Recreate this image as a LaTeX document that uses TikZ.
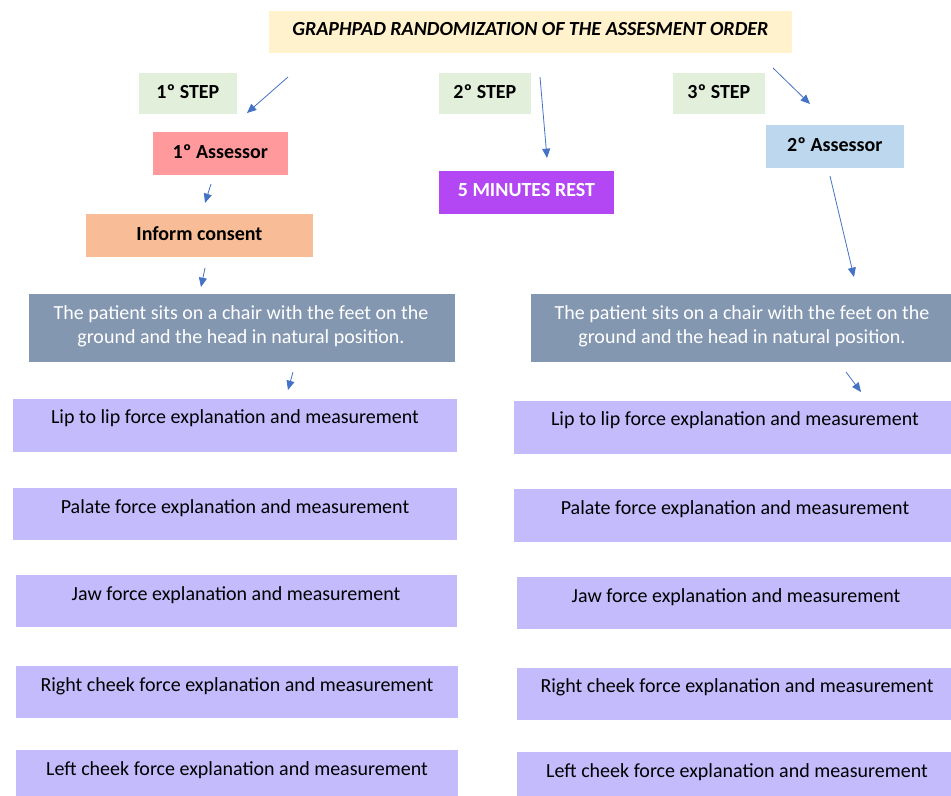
\documentclass[tikz,border=0pt]{standalone}
\usepackage{fontspec}
\setmainfont{Carlito}
\usetikzlibrary{arrows.meta}
\definecolor{titlec}{HTML}{FFF2CC}
\definecolor{stepc}{HTML}{E2EFDA}
\definecolor{assAc}{HTML}{FF999C}
\definecolor{assBc}{HTML}{BDD7EE}
\definecolor{informc}{HTML}{F8BD96}
\definecolor{restc}{HTML}{B247F3}
\definecolor{patc}{HTML}{8497B0}
\definecolor{measc}{HTML}{C4BBFD}
\definecolor{arrc}{HTML}{4472C4}
\tikzset{
  box/.style={draw=white, line width=0.6pt, inner sep=0pt, anchor=north west},
  boldtxt/.style={font=\fontsize{15}{18}\selectfont\bfseries, yshift=1.5pt},
  meastxt/.style={font=\fontsize{15}{18}\selectfont, yshift=-1.5pt},
  arr/.style={draw=arrc, line width=0.6pt, -{Triangle[length=7pt,width=6pt]}},
}
\begin{document}
\begin{tikzpicture}[x=0.75pt,y=-0.75pt]
\useasboundingbox (0,0) rectangle (951,796);
\newcommand{\bx}[6]{\node[box, fill=#6, minimum width=#4*0.75pt, minimum height=#5*0.75pt] (#1) at (#2,#3) {};}
% title
\bx{title}{268}{10}{524}{43}{titlec}
\node[font=\fontsize{15}{18}\selectfont\bfseries\itshape, yshift=2pt] (titlet) at (title.center) {GRAPHPAD RANDOMIZATION OF THE ASSESMENT ORDER};
% steps
\bx{s1}{138}{72}{99}{42}{stepc}
\node[boldtxt] (s1t) at (s1.center) {1º STEP};
\bx{s2}{438}{72}{93}{42}{stepc}
\node[boldtxt] (s2t) at (s2.center) {2º STEP};
\bx{s3}{672}{72}{93}{42}{stepc}
\node[boldtxt] (s3t) at (s3.center) {3º STEP};
% assessors
\bx{a1}{152}{131}{136}{44}{assAc}
\node[boldtxt] (a1t) at (a1.center) {1º Assessor};
\bx{a2}{765}{124}{139}{44}{assBc}
\node[boldtxt] (a2t) at (a2.center) {2º Assessor};
% rest
\bx{rest}{438}{170}{176}{44}{restc}
\node[boldtxt, text=white] (restt) at (rest.center) {5 MINUTES REST};
% inform
\bx{inf}{85}{213}{228}{44}{informc}
\node[boldtxt] (inft) at (inf.center) {Inform consent};
% patient
\bx{pL}{28}{293}{427}{69}{patc}
\node[meastxt, text=white, align=center] (pLt) at (241,324) {The patient sits on a chair with the feet on the\\ground and the head in natural position.};
\bx{pR}{530}{293}{430}{69}{patc}
\node[meastxt, text=white, align=center] (pRt) at (742,324) {The patient sits on a chair with the feet on the\\ground and the head in natural position.};
% measurement boxes left
\bx{mL1}{12}{398}{445}{54}{measc}
\node[meastxt] (mL1t) at (235,416) {Lip to lip force explanation and measurement};
\bx{mL2}{12}{487}{445}{53}{measc}
\node[meastxt] (mL2t) at (235,506) {Palate force explanation and measurement};
\bx{mL3}{15}{574}{442}{53}{measc}
\node[meastxt] (mL3t) at (236,593) {Jaw force explanation and measurement};
\bx{mL4}{15}{665}{443}{53}{measc}
\node[meastxt] (mL4t) at (237,684) {Right cheek force explanation and measurement};
\bx{mL5}{15}{749}{443}{52}{measc}
\node[meastxt] (mL5t) at (237,768) {Left cheek force explanation and measurement};
% measurement boxes right
\bx{mR1}{513}{400}{445}{54}{measc}
\node[meastxt] (mR1t) at (735,418) {Lip to lip force explanation and measurement};
\bx{mR2}{513}{488}{445}{54}{measc}
\node[meastxt] (mR2t) at (735,507) {Palate force explanation and measurement};
\bx{mR3}{516}{576}{442}{53}{measc}
\node[meastxt] (mR3t) at (736,595) {Jaw force explanation and measurement};
\bx{mR4}{516}{667}{442}{53}{measc}
\node[meastxt] (mR4t) at (737,685) {Right cheek force explanation and measurement};
\bx{mR5}{516}{751}{442}{52}{measc}
\node[meastxt] (mR5t) at (737,770) {Left cheek force explanation and measurement};
% arrow end points
\coordinate (c1a) at (288,77);  \coordinate (c1b) at (247,113);
\coordinate (c2a) at (540,77);  \coordinate (c2b) at (547,158);
\coordinate (c3a) at (773,68);  \coordinate (c3b) at (810,104);
\coordinate (c4a) at (211,184); \coordinate (c4b) at (205,203);
\coordinate (c5a) at (205,268); \coordinate (c5b) at (201,287);
\coordinate (c6a) at (830,176); \coordinate (c6b) at (854,277);
\coordinate (c7a) at (293,372); \coordinate (c7b) at (288,390);
\coordinate (c8a) at (846,372); \coordinate (c8b) at (861,392);
\draw[arr] (c1a) -- (c1b);
\draw[arr] (c2a) -- (c2b);
\draw[arr] (c3a) -- (c3b);
\draw[arr] (c4a) -- (c4b);
\draw[arr] (c5a) -- (c5b);
\draw[arr] (c6a) -- (c6b);
\draw[arr] (c7a) -- (c7b);
\draw[arr] (c8a) -- (c8b);
\end{tikzpicture}
\end{document}
